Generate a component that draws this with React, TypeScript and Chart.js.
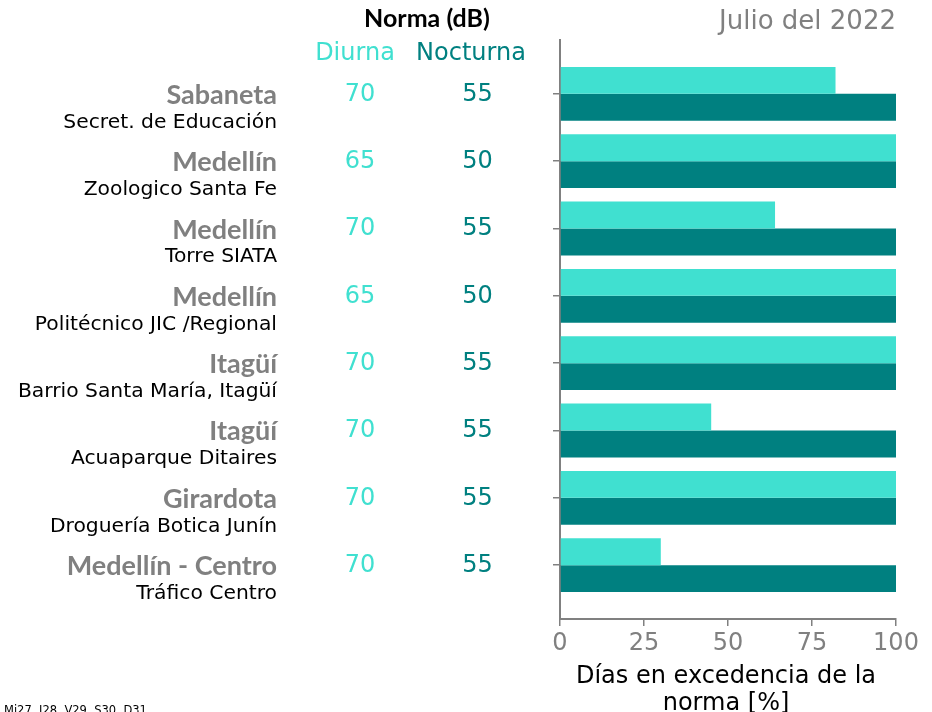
import React, { useEffect, useRef } from "react";
import { Chart, registerables } from "chart.js";

Chart.register(...registerables);

const sites = ["Sabaneta", "Medellín", "Medellín", "Medellín", "Itagüí", "Itagüí", "Girardota", "Medellín - Centro"];
const stations = [
  "Secret. de Educación",
  "Zoologico Santa Fe",
  "Torre SIATA",
  "Politécnico JIC /Regional",
  "Barrio Santa María, Itagüí",
  "Acuaparque Ditaires",
  "Droguería Botica Junín",
  "Tráfico Centro",
];
const normaDiurna = [70, 65, 70, 65, 70, 70, 70, 70];
const normaNocturna = [55, 50, 55, 50, 55, 55, 55, 55];
const diasDiurna = [82, 100, 64, 100, 100, 45, 100, 30];
const diasNocturna = [100, 100, 100, 100, 100, 100, 100, 100];
const xTicks = [0, 25, 50, 75, 100];
const titleText = "Julio del 2022";
const headerText = "Norma (dB)";
const diurnaLabel = "Diurna";
const nocturnaLabel = "Nocturna";
const xTitle = ["Días en excedencia de la", "norma [%]"];
const footText = "Mi27  J28  V29  S30  D31";

const TURQ = "#40E0D0";
const TEAL = "#008080";
const GRAY = "#808080";
const DJ = "'DejaVu Sans', sans-serif";
const LATO = "Lato, 'DejaVu Sans', sans-serif";

const textPlugin = {
  id: "sideText",
  afterDraw(chart: any) {
    const ctx = chart.ctx;
    const y = chart.scales.y;
    const area = chart.chartArea;
    ctx.save();
    ctx.textBaseline = "alphabetic";
    // title
    ctx.font = `26px ${DJ}`;
    ctx.fillStyle = GRAY;
    ctx.textAlign = "right";
    ctx.fillText(titleText, area.right, 29);
    // header
    ctx.textAlign = "center";
    ctx.font = `bold 25px ${LATO}`;
    ctx.fillStyle = "#000";
    ctx.fillText(headerText, 427, 27);
    ctx.font = `24px ${DJ}`;
    ctx.fillStyle = TURQ;
    ctx.fillText(diurnaLabel, 355, 60);
    ctx.fillStyle = TEAL;
    ctx.fillText(nocturnaLabel, 471, 60);
    // rows
    sites.forEach((s, i) => {
      const cy = y.getPixelForValue(i);
      ctx.textAlign = "right";
      ctx.font = `bold 27px ${LATO}`;
      ctx.fillStyle = GRAY;
      ctx.fillText(s, 277, cy + 10);
      ctx.font = `20.3px ${DJ}`;
      ctx.fillStyle = "#000";
      ctx.fillText(stations[i], 277, cy + 33.7);
      ctx.textAlign = "center";
      ctx.font = `24px ${DJ}`;
      ctx.fillStyle = TURQ;
      ctx.fillText(String(normaDiurna[i]), 360, cy + 6.8);
      ctx.fillStyle = TEAL;
      ctx.fillText(String(normaNocturna[i]), 477.5, cy + 6.8);
    });
    // x axis title
    const cx = (area.left + area.right) / 2 - 2;
    ctx.textAlign = "center";
    ctx.font = `24px ${DJ}`;
    ctx.fillStyle = "#000";
    ctx.fillText(xTitle[0], cx, 683);
    ctx.fillText(xTitle[1], cx, 710);
    // footer
    ctx.textAlign = "left";
    ctx.font = `11.5px ${DJ}`;
    ctx.fillText(footText, 4, 714);
    ctx.restore();
  },
};

export default function App() {
  const ref = useRef<HTMLCanvasElement | null>(null);
  useEffect(() => {
    if (!ref.current) return;
    const chart = new Chart(ref.current, {
      type: "bar",
      data: {
        datasets: [
          {
            label: diurnaLabel,
            data: diasDiurna.map((v, i) => ({ x: v, y: i })),
            backgroundColor: TURQ,
            borderWidth: 0,
            categoryPercentage: 0.8,
            barPercentage: 1.0,
          },
          {
            label: nocturnaLabel,
            data: diasNocturna.map((v, i) => ({ x: v, y: i })),
            backgroundColor: TEAL,
            borderWidth: 0,
            categoryPercentage: 0.8,
            barPercentage: 1.0,
          },
        ],
      },
      options: {
        indexAxis: "y",
        responsive: false,
        animation: false,
        devicePixelRatio: 1,
        layout: { padding: { left: 553, right: 36, top: 40, bottom: 0 } },
        plugins: { legend: { display: false }, tooltip: { enabled: false } },
        scales: {
          y: {
            type: "linear",
            reverse: true,
            offset: false,
            min: -0.8,
            max: 7.8,
            afterBuildTicks: (s: any) => {
              s.ticks = sites.map((_, i) => ({ value: i }));
            },
            afterFit: (s: any) => {
              s.width = 7;
            },
            ticks: { display: false },
            grid: { offset: false, drawOnChartArea: false, drawTicks: true, tickLength: 7, color: GRAY, lineWidth: 1.5 },
            border: { display: true, color: GRAY, width: 2 },
          },
          x: {
            type: "linear",
            min: 0,
            max: 100,
            offset: false,
            afterBuildTicks: (s: any) => {
              s.ticks = xTicks.map((v) => ({ value: v }));
            },
            afterFit: (s: any) => {
              s.height = 93;
            },
            ticks: { color: GRAY, font: { family: DJ, size: 24 }, padding: 3, maxRotation: 0 },
            grid: { offset: false, drawOnChartArea: false, drawTicks: true, tickLength: 7, color: GRAY, lineWidth: 1.5 },
            border: { display: true, color: GRAY, width: 2 },
          },
        },
      } as any,
      plugins: [textPlugin],
    });
    return () => chart.destroy();
  }, []);
  return (
    <div style={{ position: "absolute", left: 0, top: 0, width: 932, height: 712, background: "#fff" }}>
      <canvas ref={ref} width={932} height={712} style={{ display: "block" }} />
    </div>
  );
}
